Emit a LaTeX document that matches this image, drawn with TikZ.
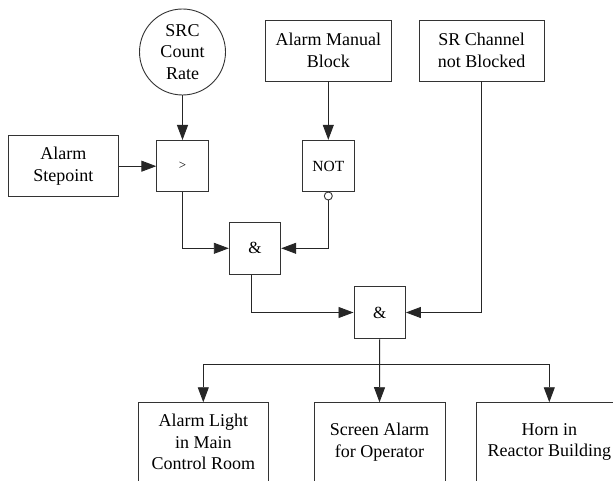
\documentclass[tikz,border=0pt]{standalone}
\usepackage{fontspec}
\setmainfont{Liberation Serif}
\usetikzlibrary{arrows.meta}
\begin{document}
\begin{tikzpicture}[x=1pt,y=-1pt,
  line width=0.9pt,
  every node/.style={draw=black!80, line width=0.9pt, inner sep=0pt, align=center,
     font=\fontsize{18}{21.8}\selectfont},
  blk/.style={rectangle},
  gate/.style={rectangle, minimum width=51.5pt, minimum height=51.5pt},
  arr/.style={draw=black!85, -{Triangle[length=15pt,width=11pt]}},
  wire/.style={draw=black!85}]
\useasboundingbox (0,0) rectangle (613,481);
\clip (0,0) rectangle (613,481);
\fill[white] (0,0) rectangle (613,481);
% inputs
\node[circle, minimum size=86pt] (src) at (182.5,52) {SRC\\Count\\Rate};
\node[blk, minimum width=110pt, minimum height=61pt] (setp) at (63.3,166.2) {Alarm\\Stepoint};
\node[blk, minimum width=126.7pt, minimum height=61pt] (amb) at (328.3,50.5) {Alarm Manual\\Block};
\node[blk, minimum width=124.7pt, minimum height=61pt] (srch) at (481.7,50.5) {SR Channel\\not Blocked};
% gates
\node[gate, font=\fontsize{13}{15}\selectfont] (gt) at (182.5,166.2) {>};
\node[gate, font=\fontsize{15.5}{18}\selectfont] (notg) at (328.3,166) {NOT};
\node[circle, minimum size=8pt] (bub) at (328.3,196) {};
\node[gate, font=\fontsize{17}{18}\selectfont] (and1) at (255,248.3) {\&};
\node[gate, font=\fontsize{17}{18}\selectfont] (and2) at (379.7,312.5) {\&};
% outputs
\node[blk, minimum width=130pt, minimum height=78.6pt] (out1) at (203.3,442) {Alarm Light\\in Main\\Control Room};
\node[blk, minimum width=131pt, minimum height=78.6pt] (out2) at (379.5,442) {Screen Alarm\\for Operator};
\node[blk, minimum width=145.3pt, minimum height=78.6pt] (out3) at (549.3,442) {Horn in\\Reactor Building};
\coordinate (split) at (379.5,364);
\coordinate (a1out) at (251.7,274);
% connectors
\draw[arr] (src.south) -- (gt.north);
\draw[arr] (setp.east) -- (gt.west);
\draw[arr] (amb.south) -- (notg.north);
\draw[arr] (gt.south) |- (and1.west);
\draw[arr] (bub.south) |- (and1.east);
\draw[arr] (a1out |- and1.south) |- (and2.west);
\draw[arr] (srch.south) |- (and2.east);
\draw[arr] (and2.south) -- (out2.north);
\draw[arr] (split) -| (out1.north);
\draw[arr] (split) -| (out3.north);
\end{tikzpicture}
\end{document}
